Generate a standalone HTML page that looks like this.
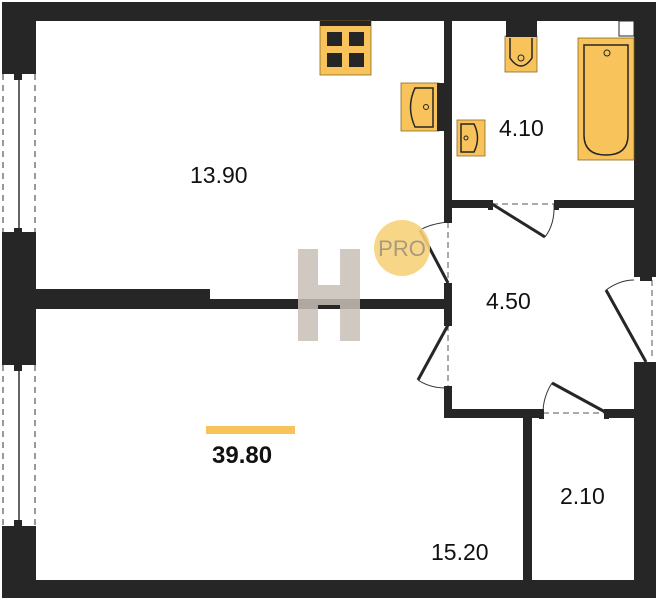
<!DOCTYPE html>
<html><head><style>body{margin:0;background:#fff}svg{display:block}</style></head><body>
<svg width="658" height="600" viewBox="0 0 658 600" xmlns="http://www.w3.org/2000/svg" font-family="Liberation Sans, sans-serif">
<g fill="#262626">
<rect x="2" y="2" width="654" height="19"/>
<rect x="2" y="2" width="34" height="70"/>
<rect x="2" y="236" width="34" height="127"/>
<rect x="2" y="528" width="34" height="70"/>
<rect x="2" y="580" width="654" height="18"/>
<rect x="634" y="2" width="22" height="275"/>
<rect x="634" y="362" width="22" height="236"/>
<rect x="444" y="2" width="8" height="217"/>
<rect x="444" y="285" width="8" height="37"/>
<rect x="444" y="388" width="8" height="30"/>
<rect x="36" y="289" width="174" height="20"/>
<rect x="210" y="299" width="234" height="10"/>
<rect x="444" y="409" width="97" height="9"/>
<rect x="609" y="409" width="26" height="9"/>
<rect x="452" y="200" width="38" height="8"/>
<rect x="556" y="200" width="79" height="8"/>
<rect x="523" y="418" width="9" height="162"/>
</g>
<!-- windows -->
<g stroke="#333" fill="none" stroke-width="1">
<path d="M3 74V234M35 74V234M3 365V526M35 365V526" stroke-dasharray="6,5"/>
<path d="M19 76V232M19 367V524" stroke-width="1.5"/>
</g>
<g fill="#262626"><rect x="2" y="70" width="34" height="4"/><rect x="2" y="232" width="34" height="4"/><rect x="14" y="74" width="8" height="6"/><rect x="14" y="228" width="8" height="6"/><rect x="2" y="361" width="34" height="4"/><rect x="2" y="526" width="34" height="4"/><rect x="14" y="365" width="8" height="6"/><rect x="14" y="520" width="8" height="6"/></g>
<!-- doors -->
<g stroke="#555" fill="none" stroke-width="1" stroke-dasharray="6,4">
<path d="M448 222V283M448 325V386M492 204H554M543 413H607M652 280V360"/>
</g>
<g stroke="#262626" stroke-width="3" fill="none">
<line x1="420" y1="230" x2="448" y2="283"/>
<line x1="448" y1="325" x2="418" y2="380"/>
<line x1="492" y1="204" x2="545" y2="237"/>
<line x1="552" y1="383" x2="607" y2="413"/>
<line x1="606" y1="290" x2="646" y2="362"/>
</g>
<g stroke="#333" stroke-width="1" fill="none">
<path d="M448 222Q430 224 420 230"/><path d="M418 380Q430 388 446 388"/>
<path d="M554 204Q555 224 545 237"/><path d="M552 383Q543 397 543 413"/><path d="M606 290Q620 280 634 280"/>
</g>
<g fill="#262626"><rect x="444" y="217" width="8" height="6"/><rect x="444" y="283" width="8" height="6"/><rect x="444" y="320" width="8" height="6"/><rect x="444" y="386" width="8" height="6"/><rect x="488" y="200" width="5" height="10"/><rect x="554" y="200" width="5" height="10"/><rect x="539" y="409" width="5" height="10"/><rect x="604" y="409" width="5" height="10"/><rect x="640" y="277" width="12" height="4"/></g>
<!-- fixtures -->
<rect x="320" y="21" width="51" height="54" fill="#f7c35a" stroke="#8a6a20" stroke-width="0.8"/>
<rect x="320" y="21" width="51" height="5" fill="#262626"/>
<g fill="#262626"><rect x="327" y="32" width="15" height="14"/><rect x="349" y="32" width="15" height="14"/><rect x="327" y="53" width="15" height="14"/><rect x="349" y="53" width="15" height="14"/></g>
<rect x="401" y="83" width="38" height="48" fill="#f7c35a" stroke="#8a6a20" stroke-width="0.8"/>
<rect x="437" y="83" width="7" height="48" fill="#262626"/>
<path d="M433 88H415Q406 107 415 127H433Z" fill="none" stroke="#262626" stroke-width="1.5"/><circle cx="426" cy="107" r="2.5" fill="none" stroke="#262626"/>
<rect x="457" y="120" width="28" height="36" fill="#f7c35a" stroke="#8a6a20" stroke-width="0.8"/>
<path d="M461 124H474Q481 138 474 152H461Z" fill="none" stroke="#262626" stroke-width="1.5"/><circle cx="466" cy="138" r="2" fill="none" stroke="#262626"/>
<rect x="505" y="36" width="32" height="36" fill="#f7c35a" stroke="#8a6a20" stroke-width="0.8"/>
<rect x="506" y="21" width="31" height="16" fill="#262626"/>
<path d="M510 38V58Q521 74 532 58V38" fill="none" stroke="#262626" stroke-width="1.5"/><circle cx="521" cy="58" r="3" fill="none" stroke="#262626"/>
<rect x="578" y="38" width="56" height="122" fill="#f7c35a" stroke="#8a6a20" stroke-width="0.8"/>
<path d="M584 45H628V135Q628 155 606 155Q584 155 584 135Z" fill="none" stroke="#262626" stroke-width="1.5"/><circle cx="607" cy="53" r="3" fill="none" stroke="#262626"/>
<rect x="619" y="21" width="15" height="15" fill="#fff" stroke="#262626"/>
<!-- watermark -->
<circle cx="402" cy="248" r="28" fill="#f7d27a" opacity="0.9"/>
<text x="402" y="256" font-size="22" fill="#a89a80" text-anchor="middle">PRO</text>
<g fill="#c8c0b8" opacity="0.85"><rect x="298" y="249" width="20" height="92"/><rect x="340" y="249" width="20" height="92"/><rect x="318" y="285" width="22" height="20"/></g>
<!-- labels -->
<g fill="#111" font-size="23">
<text x="190" y="183">13.90</text>
<text x="499" y="136">4.10</text>
<text x="486" y="309">4.50</text>
<text x="560" y="504">2.10</text>
<text x="431" y="560">15.20</text>
</g>
<rect x="206" y="426" width="89" height="8" fill="#f7c35a"/>
<text x="212" y="463" font-size="24" font-weight="bold" fill="#111">39.80</text>
</svg>
</body></html>
